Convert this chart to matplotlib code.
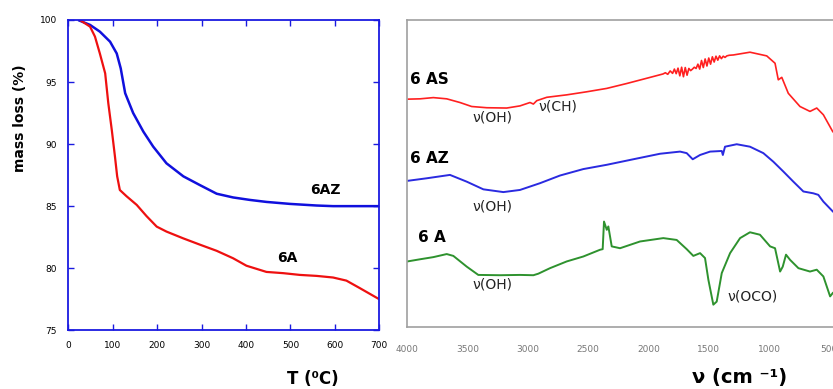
import numpy as np
import matplotlib.pyplot as plt

# --- TGA data (left panel) ---
tga_6az_t = [25, 49, 71, 94, 109, 118, 128, 146, 169, 191, 221, 259, 296, 334, 371, 409, 446, 499, 559, 596, 700]
tga_6az_m = [99.95, 99.6, 99.06, 98.25, 97.3, 96.1, 94.1, 92.5, 91.0, 89.8, 88.45, 87.4, 86.7, 86.0, 85.7, 85.5, 85.34, 85.18, 85.05, 85.0, 85.0]

tga_6a_t = [26, 49, 60, 71, 83, 90, 98, 105, 110, 116, 131, 154, 176, 199, 221, 259, 296, 334, 371, 401, 446, 484, 521, 559, 596, 626, 656, 700]
tga_6a_m = [100.0, 99.46, 98.66, 97.3, 95.7, 93.3, 91.1, 89.0, 87.4, 86.3, 85.8, 85.1, 84.2, 83.35, 82.95, 82.4, 81.9, 81.4, 80.8, 80.2, 79.7, 79.6, 79.46, 79.38, 79.25, 79.0, 78.4, 77.5]

# --- FTIR data (right panel), arbitrary transmittance units ---
ir_6as_wn = [3993, 3895, 3785, 3674, 3564, 3467, 3342, 3176, 3066, 2983, 2955, 2927, 2844, 2678, 2512, 2346, 2180, 2015,
             1880, 1860, 1840, 1820, 1800, 1785, 1770, 1755, 1740, 1725, 1710, 1695, 1680, 1665, 1650, 1635, 1620, 1605,
             1590, 1575, 1560, 1545, 1530, 1515, 1500, 1485, 1470, 1455, 1440, 1425, 1410, 1395, 1380, 1365, 1350, 1330,
             1296, 1158, 1019, 950, 923, 894, 840, 743, 660, 604, 549, 471]
ir_6as_t = [74.2, 74.3, 74.7, 74.3, 73.1, 71.8, 71.4, 71.3, 72.0, 73.1, 72.6, 73.7, 74.8, 75.6, 76.6, 77.7, 79.3, 81.0,
            82.4, 82.8, 82.3, 83.4, 82.6, 84.0, 82.5, 84.3, 81.8, 84.6, 81.5, 84.5, 82.0, 84.2, 83.5, 84.0, 84.6, 84.2,
            85.6, 84.0, 86.8, 84.5, 87.3, 85.0, 87.6, 85.6, 88.0, 86.3, 88.2, 86.9, 88.3, 87.4, 88.2, 87.8, 88.3, 88.5,
            88.6, 89.5, 88.3, 85.9, 80.5, 81.3, 76.1, 71.8, 70.2, 71.3, 69.1, 63.6]

ir_6az_wn = [3993, 3840, 3647, 3508, 3370, 3204, 3066, 2900, 2734, 2541, 2346, 2126, 1904, 1738, 1683, 1633, 1572, 1489,
             1392, 1383, 1365, 1268, 1158, 1047, 964, 881, 798, 715, 632, 591, 549, 471]
ir_6az_t = [47.6, 48.4, 49.5, 47.3, 44.8, 43.9, 44.6, 46.8, 49.3, 51.4, 52.8, 54.6, 56.4, 57.1, 56.6, 54.6, 56.0, 57.1,
            57.3, 56.0, 58.7, 59.5, 58.7, 56.6, 53.8, 50.6, 47.3, 44.1, 43.5, 43.0, 40.8, 37.6]

ir_6a_wn = [3999, 3895, 3785, 3674, 3619, 3508, 3412, 3232, 3066, 2955, 2914, 2817, 2678, 2541, 2402, 2380, 2369, 2346,
            2333, 2305, 2236, 2070, 1877, 1766, 1683, 1628, 1572, 1531, 1503, 1462, 1434, 1392, 1323, 1240, 1158, 1075,
            991, 950, 908, 886, 859, 825, 756, 660, 604, 549, 493, 471]
ir_6a_t = [21.3, 22.0, 22.7, 23.7, 23.1, 19.6, 16.9, 16.8, 16.9, 16.8, 17.3, 19.1, 21.3, 22.9, 25.1, 25.3, 34.3, 31.6,
           32.7, 26.2, 25.6, 27.8, 28.9, 28.3, 25.3, 23.1, 24.0, 22.4, 15.3, 7.2, 8.2, 17.5, 24.0, 28.9, 30.8, 30.0,
           26.2, 25.6, 18.0, 19.6, 23.5, 21.8, 19.1, 18.0, 18.6, 16.4, 9.9, 11.0]

fig = plt.figure(figsize=(8.33, 3.89), dpi=100)

# ---------- left: TGA ----------
ax1 = fig.add_axes([0.082, 0.151, 0.3733, 0.7977])
ax1.plot(tga_6az_t, tga_6az_m, color='#1010dd', lw=1.8)
ax1.plot(tga_6a_t, tga_6a_m, color='#ee1010', lw=1.6)
ax1.set_xlim(0, 700)
ax1.set_ylim(75, 100)
ax1.set_xticks(range(0, 701, 100))
ax1.set_yticks(range(75, 101, 5))
for s in ax1.spines.values():
    s.set_color('#1a1ae0')
    s.set_linewidth(1.3)
ax1.tick_params(direction='in', length=4, width=1, color='#1a1ae0', top=True, right=True,
                labelsize=6.5, pad=8)
ax1.text(578, 86.3, '6AZ', fontsize=10, fontweight='bold', ha='center', va='center')
ax1.text(492, 80.8, '6A', fontsize=10, fontweight='bold', ha='center', va='center')
fig.text(313 / 833, 1 - 379 / 389, 'T (\u2070C)', fontsize=12, fontweight='bold', ha='center', va='center')
fig.text(20 / 833, 1 - 118 / 389, 'mass loss (%)', fontsize=10, fontweight='bold', rotation=90,
         ha='center', va='center')

# ---------- right: FTIR ----------
ax2 = fig.add_axes([0.4891, 0.160, 0.5209, 0.7886])
ax2.plot(ir_6as_wn, ir_6as_t, color='#ff2020', lw=1.2)
ax2.plot(ir_6az_wn, ir_6az_t, color='#2a2ae0', lw=1.4)
ax2.plot(ir_6a_wn, ir_6a_t, color='#2e922e', lw=1.4)
ax2.set_xlim(4000, 400)
ax2.set_ylim(0, 100)
ax2.set_xticks(range(4000, 499, -500))
ax2.set_yticks([])
for s in ax2.spines.values():
    s.set_color('#a0a0a0')
    s.set_linewidth(1.2)
ax2.tick_params(axis='x', length=0, labelsize=6.5, labelcolor='#777777', pad=13)

ax2.text(3978, 80.5, '6 AS', fontsize=11, fontweight='bold', ha='left', va='center')
ax2.text(3978, 54.7, '6 AZ', fontsize=11, fontweight='bold', ha='left', va='center')
ax2.text(3912, 29.0, '6 A', fontsize=11, fontweight='bold', ha='left', va='center')
ax2.text(3298, 68.1, '\u03bd(OH)', fontsize=10, color='#222222', ha='center', va='center')
ax2.text(2751, 71.7, '\u03bd(CH)', fontsize=10, color='#222222', ha='center', va='center')
ax2.text(3298, 39.1, '\u03bd(OH)', fontsize=10, color='#222222', ha='center', va='center')
ax2.text(3298, 13.7, '\u03bd(OH)', fontsize=10, color='#222222', ha='center', va='center')
ax2.text(1133, 9.8, '\u03bd(OCO)', fontsize=10, color='#222222', ha='center', va='center')
fig.text(740 / 833, 1 - 377 / 389, '\u03bd (cm \u207b\u00b9)', fontsize=14, fontweight='bold',
         ha='center', va='center')

fig.savefig('out.png', dpi=100)
